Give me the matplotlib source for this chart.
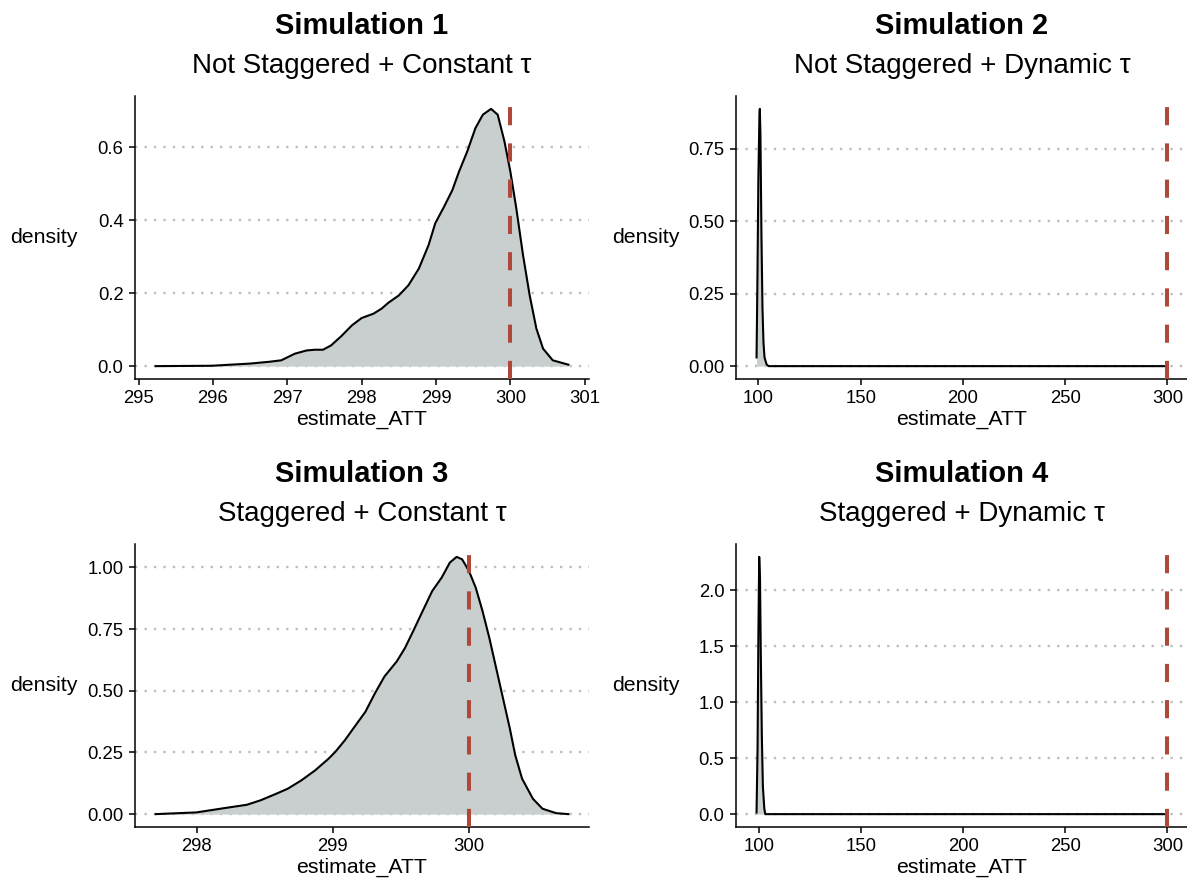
import numpy as np
import matplotlib
matplotlib.use("Agg")
import matplotlib.pyplot as plt

plt.rcParams['font.family'] = ['Liberation Sans', 'DejaVu Sans']

# density curves
x1 = [295.23, 295.98, 296.5, 296.76, 296.92, 297.1, 297.26, 297.37, 297.48, 297.59, 297.73,
      297.87, 298.0, 298.16, 298.27, 298.36, 298.5, 298.63, 298.77, 298.9, 298.99, 299.11,
      299.22, 299.31, 299.42, 299.53, 299.63, 299.74, 299.83, 299.92, 300.0, 300.08, 300.17,
      300.26, 300.35, 300.44, 300.57, 300.78]
d1 = [0.0, 0.001, 0.007, 0.012, 0.016, 0.034, 0.043, 0.045, 0.045, 0.057, 0.083,
      0.112, 0.132, 0.144, 0.158, 0.174, 0.194, 0.222, 0.268, 0.332, 0.392, 0.438,
      0.483, 0.534, 0.589, 0.653, 0.69, 0.706, 0.69, 0.617, 0.534, 0.433, 0.305,
      0.194, 0.103, 0.048, 0.016, 0.004]

x2 = [99.1, 99.5, 100.0, 100.5, 100.7, 101.0, 101.5, 102.0, 102.5, 103.0, 104.0, 105.0, 300.0]
d2 = [0.03, 0.28, 0.65, 0.86, 0.887, 0.80, 0.45, 0.2, 0.08, 0.03, 0.006, 0.0, 0.0]

x3 = [297.7, 298.0, 298.2, 298.37, 298.47, 298.57, 298.67, 298.77, 298.87, 298.97, 299.02,
      299.09, 299.16, 299.24, 299.31, 299.38, 299.47, 299.53, 299.59, 299.66, 299.73, 299.8,
      299.86, 299.91, 299.95, 300.0, 300.05, 300.1, 300.15, 300.2, 300.25, 300.3, 300.34,
      300.39, 300.47, 300.54, 300.64, 300.73]
d3 = [0.0, 0.007, 0.024, 0.038, 0.056, 0.079, 0.103, 0.137, 0.177, 0.225, 0.253,
      0.3, 0.354, 0.415, 0.49, 0.558, 0.619, 0.673, 0.741, 0.823, 0.904, 0.959,
      1.02, 1.043, 1.033, 0.986, 0.918, 0.823, 0.714, 0.592, 0.47, 0.348, 0.239,
      0.144, 0.062, 0.022, 0.004, 0.0]

x4 = [98.7, 99.2, 99.6, 100.0, 100.4, 100.8, 101.3, 101.8, 102.5, 103.0, 300.0]
d4 = [0.015, 0.6, 1.6, 2.30, 2.1, 1.4, 0.7, 0.25, 0.05, 0.0, 0.0]

true_att = 300

titles = ["Simulation 1", "Simulation 2", "Simulation 3", "Simulation 4"]
subtitles = ["Not Staggered + Constant τ", "Not Staggered + Dynamic τ",
             "Staggered + Constant τ", "Staggered + Dynamic τ"]

xticks = [[295, 296, 297, 298, 299, 300, 301],
          [100, 150, 200, 250, 300],
          [298, 299, 300],
          [100, 150, 200, 250, 300]]
yticks = [[0.0, 0.2, 0.4, 0.6],
          [0.0, 0.25, 0.5, 0.75],
          [0.0, 0.25, 0.5, 0.75, 1.0],
          [0.0, 0.5, 1.0, 1.5, 2.0]]
yfmt = ["{:.1f}", "{:.2f}", "{:.2f}", "{:.1f}"]

W, H = 1187, 883
fill_col = '#C9CFCE'
red = '#B0473B'

# axes boxes in pixels: left, top, right, bottom
boxes = [(135, 96, 589, 379), (736, 96, 1188, 379),
         (135, 544, 589, 827), (736, 544, 1188, 827)]


def expand(lo, hi, f=0.05):
    r = hi - lo
    return lo - f * r, hi + f * r


def draw_panel(fig, i, xs, ds):
    l, t, r, b = boxes[i]
    ax = fig.add_axes([l / W, 1 - b / H, (r - l) / W, (b - t) / H])
    ax.fill_between(xs, ds, 0, color=fill_col, lw=0, zorder=2)
    ax.plot(xs, ds, color='black', lw=1.5, zorder=3, solid_joinstyle='round')
    ax.axvline(true_att, color=red, lw=2.9, linestyle=(0, (4.5, 4.5)), zorder=4)

    ax.set_xlim(*expand(min(xs), max(max(xs), true_att)))
    ax.set_ylim(*expand(0, max(ds)))
    ax.set_xticks(xticks[i])
    ax.set_xticklabels([str(v) for v in xticks[i]])
    ax.set_yticks(yticks[i])
    ax.set_yticklabels([yfmt[i].format(v) for v in yticks[i]])

    ax.set_axisbelow(True)
    ax.yaxis.grid(True, linestyle=(0, (1, 3)), color='#BEBEBE', lw=1.7)
    ax.xaxis.grid(False)
    for s in ['top', 'right']:
        ax.spines[s].set_visible(False)
    for s in ['left', 'bottom']:
        ax.spines[s].set_linewidth(1.1)
    ax.tick_params(axis='both', length=4.2, width=1.1, pad=4, labelsize=13.3, colors='black')

    ax.set_xlabel('estimate_ATT', fontsize=15.3, labelpad=2)
    ax.set_ylabel('density', fontsize=15.3, rotation=0, ha='center', va='center')
    ax.yaxis.set_label_coords(-0.2, 0.5)

    cx = (l + r) / 2 / W
    fig.text(cx, 1 - (t - 62) / H, titles[i], ha='center', va='baseline',
             fontsize=21, fontweight='bold')
    fig.text(cx, 1 - (t - 23) / H, subtitles[i], ha='center', va='baseline', fontsize=20)
    return ax


fig = plt.figure(figsize=(W / 100, H / 100), dpi=100)
draw_panel(fig, 0, x1, d1)
draw_panel(fig, 1, x2, d2)
draw_panel(fig, 2, x3, d3)
draw_panel(fig, 3, x4, d4)

fig.savefig('out.png', dpi=100)
